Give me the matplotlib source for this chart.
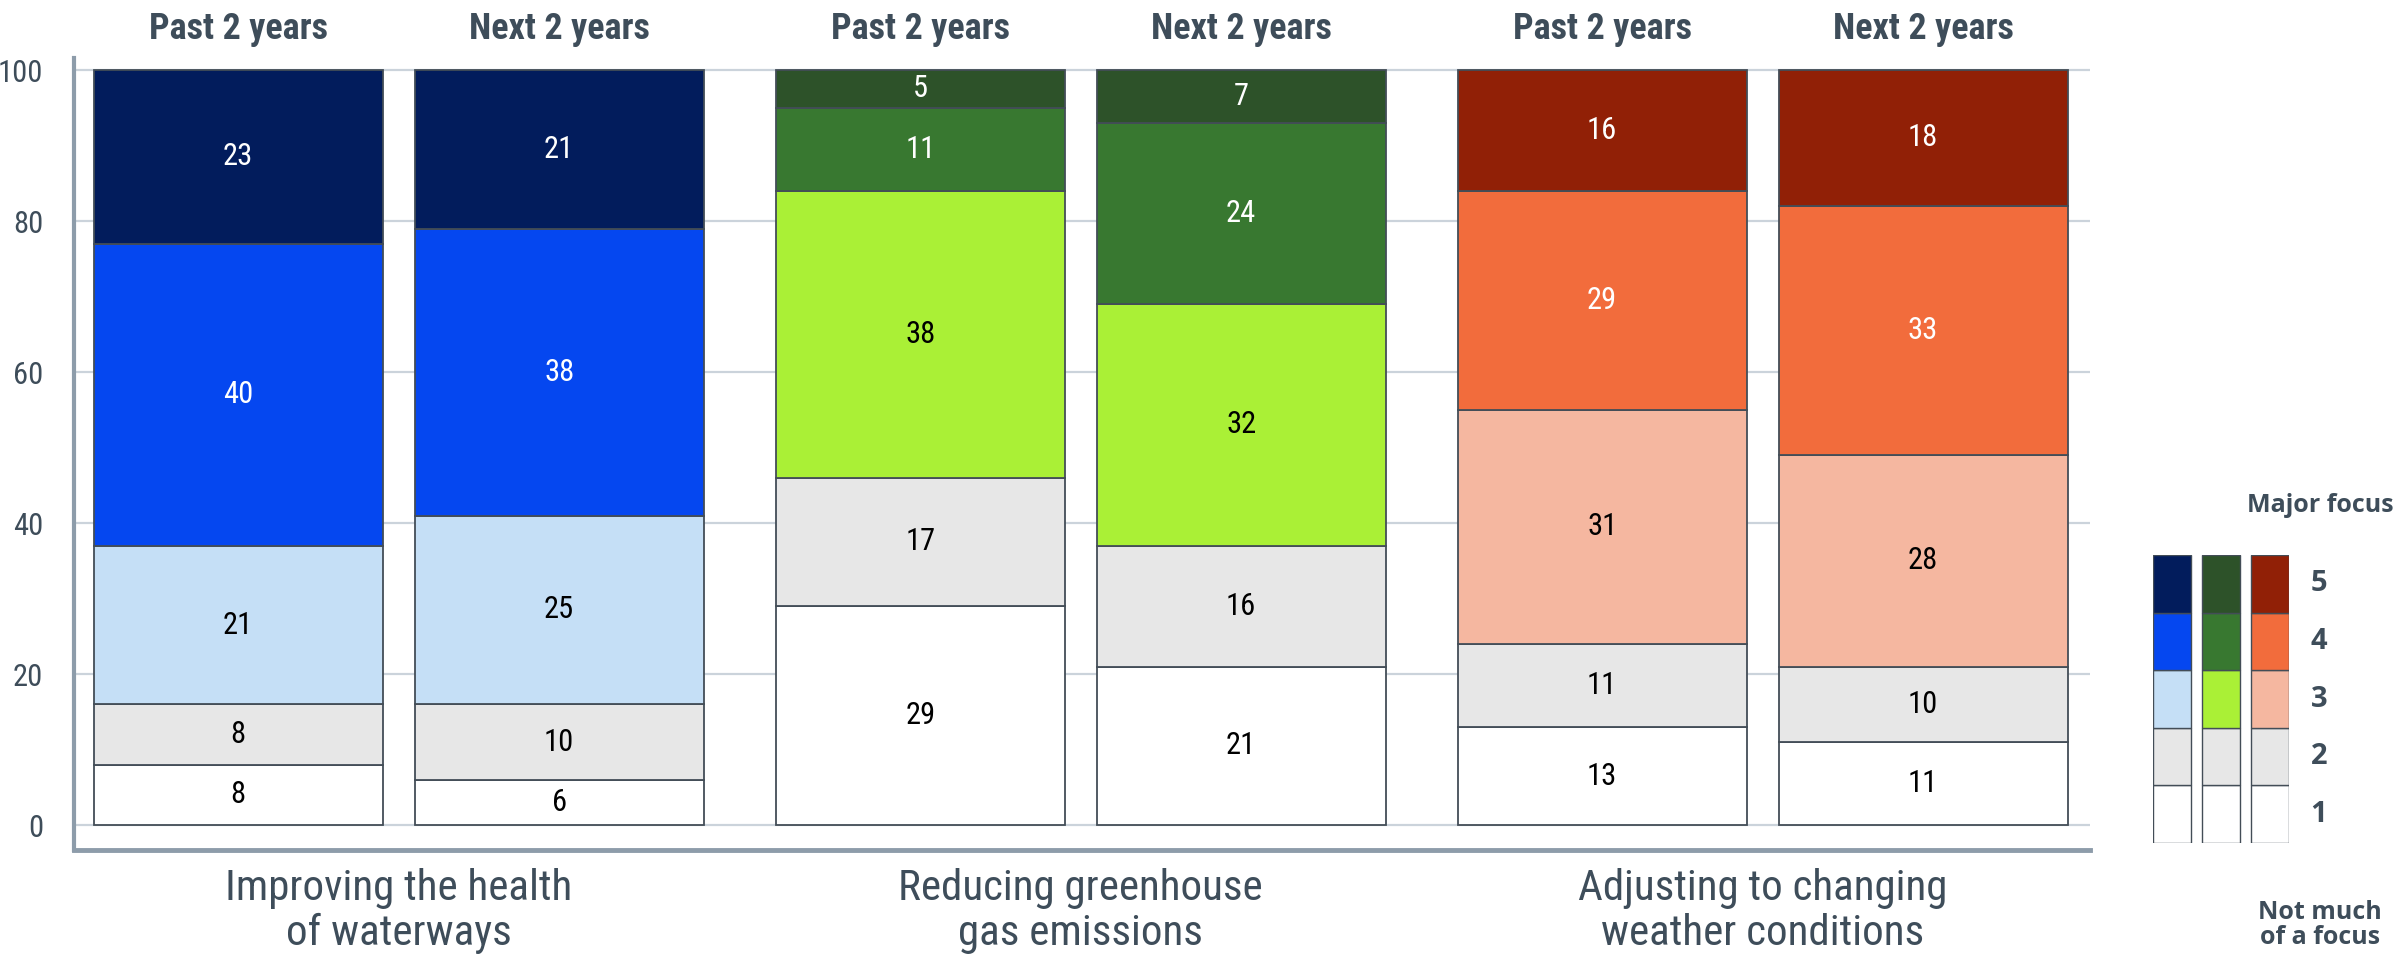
import matplotlib
matplotlib.use("Agg")
import matplotlib.pyplot as plt
import numpy as np

# data (share of respondents, %)
categories = ["Improving the health\nof waterways",
              "Reducing greenhouse\ngas emissions",
              "Adjusting to changing\nweather conditions"]
periods = ["Past 2 years", "Next 2 years"]
levels = [1, 2, 3, 4, 5]

# one value per bar: waterways past/next, ghg past/next, weather past/next
level1 = [8, 6, 29, 21, 13, 11]
level2 = [8, 10, 17, 16, 11, 10]
level3 = [21, 25, 38, 32, 31, 28]
level4 = [40, 38, 11, 24, 29, 33]
level5 = [23, 21, 5, 7, 16, 18]

# colours per group, level 1 -> 5
palettes = [
    ["#ffffff", "#e7e7e7", "#c5dff6", "#0547f0", "#021c5c"],
    ["#ffffff", "#e7e7e7", "#aaf036", "#387830", "#2d5229"],
    ["#ffffff", "#e7e7e7", "#f5b7a0", "#f26c3c", "#912006"],
]
text_colors = ["black", "black", "black", "white", "white"]

SLATE = "#3e4d5a"
EDGE = "#434d57"
AXIS = "#8d9caa"
GRID = "#cbd3db"
NARROW = ["Roboto Condensed", "DejaVu Sans"]
WIDE = ["Open Sans", "DejaVu Sans"]

plt.rcParams["font.family"] = NARROW

fig = plt.figure(figsize=(24.07, 9.58), dpi=100)
ax = fig.add_axes([0.0307, 0.1127, 0.8376, 0.8268])

values = np.array([level1, level2, level3, level4, level5])
group_gap = 0.125
xpos = [g * (2 + group_gap) + s for g in range(len(categories)) for s in range(len(periods))]

bottom = np.zeros(len(xpos))
for li, lev in enumerate(levels):
    cols = [palettes[i // 2][li] for i in range(len(xpos))]
    ax.bar(xpos, values[li], bottom=bottom, width=0.9, color=cols,
           edgecolor=EDGE, linewidth=1.3, zorder=3)
    for x, b, v in zip(xpos, bottom, values[li]):
        ax.text(x, b + v / 2, str(v), ha="center", va="center",
                fontsize=22, color=text_colors[li], zorder=4)
    bottom += values[li]

# period labels above bars
for i, x in enumerate(xpos):
    ax.text(x, 1.036, periods[i % 2], transform=ax.get_xaxis_transform(),
            ha="center", va="center", fontsize=26, fontweight="bold", color=SLATE)

# category labels under each pair
for g, cat in enumerate(categories):
    xc = (xpos[2 * g] + xpos[2 * g + 1]) / 2
    ax.text(xc, -0.077, cat, transform=ax.get_xaxis_transform(),
            ha="center", va="center", fontsize=31, color=SLATE, linespacing=1.1)

ax.set_xlim(-0.512, xpos[-1] + 0.52)
ax.set_ylim(-3.3, 101.6)
ax.set_yticks([0, 20, 40, 60, 80, 100])
ax.set_xticks([])
ax.tick_params(axis="y", length=0, pad=22, labelsize=22, labelcolor=SLATE)
ax.grid(axis="y", color=GRID, linewidth=1.6, zorder=0)
for s in ["top", "right"]:
    ax.spines[s].set_visible(False)
ax.spines["left"].set_color(AXIS)
ax.spines["left"].set_linewidth(3)
ax.spines["bottom"].set_color(AXIS)
ax.spines["bottom"].set_linewidth(3.5)

# legend: small stacked colour keys
lg = fig.add_axes([0.8945, 0.120, 0.0565, 0.3006])
leg_x = [0, 1, 2]
leg_bottom = np.zeros(3)
for li, lev in enumerate(levels):
    cols = [palettes[g][li] for g in range(3)]
    lg.bar(leg_x, [1, 1, 1], bottom=leg_bottom, width=0.78, color=cols,
           edgecolor=EDGE, linewidth=1.0)
    lg.text(3.0, li + 0.5, str(lev), ha="center", va="center", fontsize=21,
            fontweight="bold", color=SLATE, family=WIDE)
    leg_bottom += 1
lg.set_xlim(-0.39, 2.39)
lg.set_ylim(0, 5)
lg.axis("off")

fig.text(0.9638, 1 - 505 / 958, "Major focus", ha="center", va="center",
         fontsize=18, fontweight="bold", color=SLATE, family=WIDE)
fig.text(0.9638, 1 - 925 / 958, "Not much\nof a focus", ha="center", va="center",
         fontsize=18, fontweight="bold", color=SLATE, linespacing=1.0, family=WIDE)

fig.savefig("out.png", dpi=100, facecolor="white")
